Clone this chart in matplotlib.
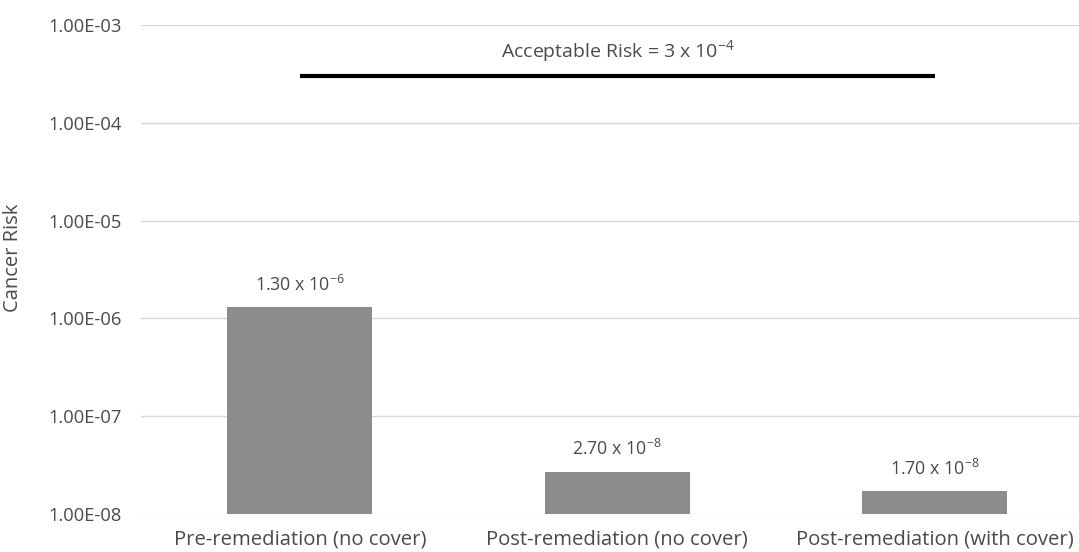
import numpy as np
import matplotlib
matplotlib.use("Agg")
import matplotlib.pyplot as plt

# Данные с картинки
categories = ["Pre-remediation (no cover)", "Post-remediation (no cover)",
              "Post-remediation (with cover)"]
risk = [1.30e-6, 2.70e-8, 1.70e-8]
risk_labels = ["1.30 x 10$^{\\mathregular{-6}}$", "2.70 x 10$^{\\mathregular{-8}}$",
               "1.70 x 10$^{\\mathregular{-8}}$"]
acceptable = 3e-4
acceptable_label = "Acceptable Risk = 3 x 10$^{\\mathregular{-4}}$"
yticks = [1e-8, 1e-7, 1e-6, 1e-5, 1e-4, 1e-3]

plt.rcParams['font.family'] = ['Open Sans', 'DejaVu Sans']
plt.rcParams['mathtext.fontset'] = 'custom'
plt.rcParams['mathtext.rm'] = 'Open Sans'

text_color = '#4a4a4a'

fig = plt.figure(figsize=(10.79, 5.52), dpi=100)
ax = fig.add_axes([141/1079, 1 - 514/552, 938/1079, (514 - 25)/552])

x = np.arange(len(categories))
ax.bar(x, risk, width=0.457, color='#8c8c8c', zorder=3)
ax.set_yscale('log')
ax.set_ylim(1e-8, 1e-3)
ax.set_xlim(-0.5, 2.454)

ax.set_yticks(yticks)
ax.set_yticklabels([f"{v:.2E}" for v in yticks])
ax.minorticks_off()
ax.set_xticks(x)
ax.set_xticklabels(categories)

ax.grid(axis='y', color='#d9d9d9', lw=1, zorder=0)
for s in ax.spines.values():
    s.set_visible(False)
ax.tick_params(length=0, colors=text_color, labelsize=13.2)
ax.tick_params(axis='x', pad=11, labelsize=14.6)
ax.tick_params(axis='y', pad=14)

ax.set_ylabel("Cancer Risk", color=text_color, fontsize=14.5)
ax.yaxis.set_label_coords(-0.126, 0.523)

# Линия допустимого риска
ax.hlines(acceptable, x[0], x[-1], color='black', lw=3, zorder=4)
ax.text(x[1], 5.3e-4, acceptable_label, ha='center', va='center',
        color=text_color, fontsize=14)

# Подписи над столбцами
for xi, v, lab in zip(x, risk, risk_labels):
    ax.annotate(lab, (xi, v), xytext=(0, 9), textcoords='offset points',
                ha='center', va='bottom', color=text_color, fontsize=12.8)

fig.savefig("out.png", dpi=100)
